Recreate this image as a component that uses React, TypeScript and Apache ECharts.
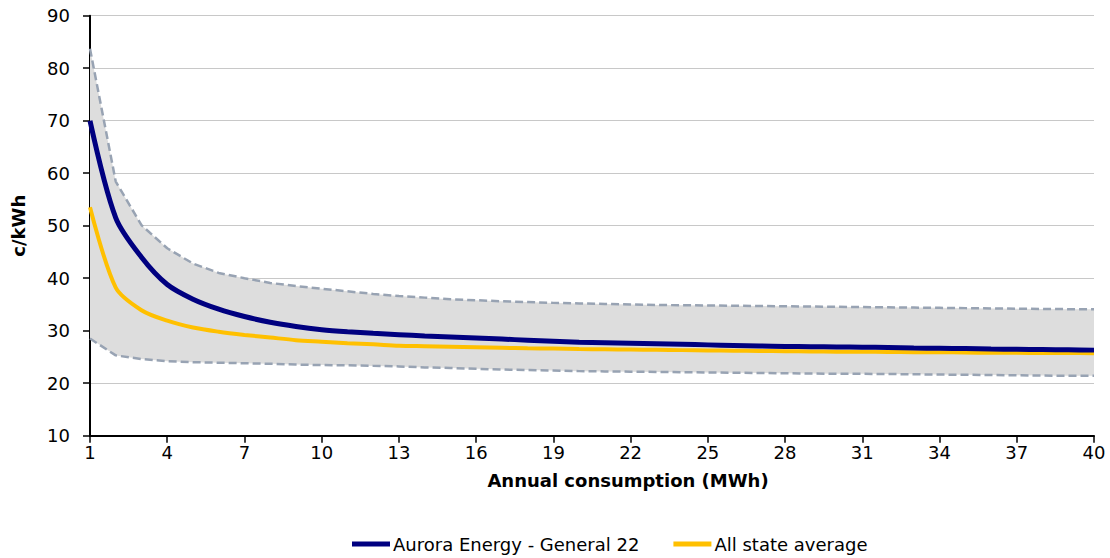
import React, { useEffect, useRef } from "react";
import * as echarts from "echarts";

const categories = ["1","2","3","4","5","6","7","8","9","10","11","12","13","14","15","16","17","18","19","20","21","22","23","24","25","26","27","28","29","30","31","32","33","34","35","36","37","38","39","40"];

const auroraGeneral22 = [70, 51.5, 44.0, 38.8, 36.0, 34.1, 32.7, 31.6, 30.8, 30.2, 29.8, 29.5, 29.25, 29.0, 28.8, 28.6, 28.4, 28.2, 28.0, 27.8, 27.7, 27.6, 27.5, 27.4, 27.3, 27.2, 27.1, 27.0, 26.95, 26.9, 26.85, 26.8, 26.7, 26.65, 26.6, 26.5, 26.45, 26.4, 26.35, 26.3];

const allStateAverage = [53.5, 38.2, 33.9, 31.9, 30.6, 29.8, 29.2, 28.7, 28.2, 27.9, 27.6, 27.4, 27.15, 27.05, 26.95, 26.85, 26.75, 26.65, 26.6, 26.5, 26.45, 26.4, 26.35, 26.3, 26.25, 26.2, 26.15, 26.1, 26.05, 26.0, 26.0, 25.95, 25.9, 25.9, 25.85, 25.8, 25.8, 25.75, 25.75, 25.7];

const rangeUpper = [83.7, 58.4, 50.1, 45.7, 42.8, 41.0, 40.0, 39.1, 38.5, 38.0, 37.5, 37.0, 36.6, 36.3, 36.0, 35.8, 35.6, 35.45, 35.3, 35.2, 35.1, 35.0, 34.9, 34.85, 34.8, 34.75, 34.7, 34.65, 34.6, 34.55, 34.5, 34.45, 34.4, 34.35, 34.3, 34.25, 34.2, 34.15, 34.1, 34.1];

const rangeLower = [28.5, 25.3, 24.6, 24.2, 24.0, 23.9, 23.8, 23.7, 23.55, 23.45, 23.4, 23.3, 23.2, 23.0, 22.9, 22.75, 22.6, 22.5, 22.4, 22.3, 22.25, 22.2, 22.15, 22.1, 22.05, 22.0, 21.95, 21.9, 21.85, 21.8, 21.78, 21.75, 21.7, 21.65, 21.6, 21.55, 21.5, 21.45, 21.42, 21.4];

const yTicks = { min: 10, max: 90, interval: 10 };

const FONT = "'DejaVu Sans', Arial, sans-serif";
const FS = 18;

export default function App() {
  const ref = useRef<HTMLDivElement>(null);
  useEffect(() => {
    if (!ref.current) return;
    const chart = echarts.init(ref.current, null, { renderer: "svg" });
    const bandDiff = rangeUpper.map((u, i) => +(u - rangeLower[i]).toFixed(3));
    chart.setOption({
      animation: false,
      textStyle: { fontFamily: FONT },
      grid: { left: 90, right: 16, top: 15.7, bottom: 122.3, containLabel: false },
      legend: {
        data: ["Aurora Energy - General 22", "All state average"],
        bottom: 0,
        left: 347,
        icon: "rect",
        itemWidth: 38,
        itemHeight: 5,
        itemGap: 34,
        textStyle: { fontFamily: FONT, fontSize: FS, color: "#000", padding: [0, 0, 0, -2] },
      },
      xAxis: {
        type: "category",
        data: categories,
        boundaryGap: false,
        name: "Annual consumption (MWh)",
        nameLocation: "middle",
        nameGap: 36,
        nameTextStyle: { fontFamily: FONT, fontSize: FS, fontWeight: "bold", color: "#000", padding: [0, 0, 0, 72] },
        axisLine: { lineStyle: { color: "#000", width: 2 } },
        axisTick: { interval: 2, length: 7, lineStyle: { color: "#000", width: 1.5 } },
        axisLabel: { interval: 2, fontSize: FS, color: "#000", fontFamily: FONT, margin: 8 },
        splitLine: { show: false },
      },
      yAxis: {
        type: "value",
        min: yTicks.min,
        max: yTicks.max,
        interval: yTicks.interval,
        name: "c/kWh",
        nameLocation: "middle",
        nameGap: 63,
        nameRotate: 90,
        nameTextStyle: { fontFamily: FONT, fontSize: FS, fontWeight: "bold", color: "#000" },
        axisLine: { show: true, lineStyle: { color: "#000", width: 2 } },
        axisTick: { show: true, length: 7, lineStyle: { color: "#000", width: 1.5 } },
        axisLabel: { fontSize: FS, color: "#000", fontFamily: FONT, margin: 20 },
        splitLine: { lineStyle: { color: "#C8C8C8", width: 1.2 } },
      },
      series: [
        {
          name: "bandBase",
          type: "line",
          data: rangeLower,
          stack: "band",
          symbol: "none",
          lineStyle: { opacity: 0 },
          silent: true,
          z: 1,
        },
        {
          name: "bandFill",
          type: "line",
          data: bandDiff,
          stack: "band",
          symbol: "none",
          lineStyle: { opacity: 0 },
          areaStyle: { color: "#DDDDDD", opacity: 1 },
          silent: true,
          z: 1,
        },
        {
          name: "upper",
          type: "line",
          data: rangeUpper,
          symbol: "none",
          lineStyle: { color: "#98A3B3", width: 2.5, type: [8, 4] },
          z: 2,
        },
        {
          name: "lower",
          type: "line",
          data: rangeLower,
          symbol: "none",
          lineStyle: { color: "#98A3B3", width: 2.5, type: [8, 4] },
          z: 2,
        },
        {
          name: "All state average",
          type: "line",
          data: allStateAverage,
          symbol: "none",
          smooth: 0.3,
          itemStyle: { color: "#FFC000" },
          lineStyle: { color: "#FFC000", width: 4 },
          z: 3,
        },
        {
          name: "Aurora Energy - General 22",
          type: "line",
          data: auroraGeneral22,
          symbol: "none",
          smooth: 0.3,
          itemStyle: { color: "#000080" },
          lineStyle: { color: "#000080", width: 5 },
          z: 4,
        },
      ],
    });
    return () => chart.dispose();
  }, []);
  return (
    <div
      ref={ref}
      style={{ position: "absolute", left: 0, top: 0, width: 1110, height: 558 }}
    />
  );
}
